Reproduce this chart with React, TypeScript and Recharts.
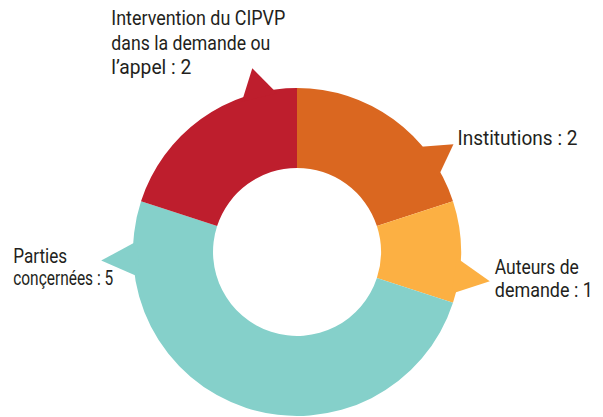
import React from "react";
import { PieChart, Pie, Cell } from "recharts";

// ---- data ----
const categories = [
  "Institutions",
  "Auteurs de demande",
  "Parties conçernées",
  "Intervention du CIPVP dans la demande ou l’appel",
];
const values = [2, 1, 5, 2];
const labelLines = [
  ["Institutions"],
  ["Auteurs de", "demande"],
  ["Parties", "conçernées"],
  ["Intervention du CIPVP", "dans la demande ou", "l’appel"],
];

// ---- style / layout ----
const colors = ["#DA6720", "#FCB043", "#85D0CA", "#BE1E2D"];
const pointerFraction = [0.77, 0.74, 0.886, 0.81];
const pointerLength = [26, 31, 32, 25];
const labelOffset = [
  [4, 1],
  [5, -7],
  [-88, 2],
  [-141, -43],
];
const lineHeight = [24, 23, 22, 24.5];
const lineWidths = [[120], [84, 98], [54, 100], [174, 159, 80]];
const HALF = 6.5;
const FONT = "Roboto, 'DejaVu Sans Condensed', sans-serif";
const FONT_SIZE = 21;
const RAD = Math.PI / 180;

const data = categories.map((name, i) => ({ name, value: values[i] }));

const polar = (cx: number, cy: number, r: number, angle: number) => [
  cx + r * Math.cos(-angle * RAD),
  cy + r * Math.sin(-angle * RAD),
];

function renderPointer(props: any) {
  const { cx, cy, outerRadius, startAngle, endAngle, index } = props;
  const a = startAngle + pointerFraction[index] * (endAngle - startAngle);
  const tip = polar(cx, cy, outerRadius + pointerLength[index], a);
  const b1 = polar(cx, cy, outerRadius - 4, a + HALF);
  const b2 = polar(cx, cy, outerRadius - 4, a - HALF);
  const lines = labelLines[index].slice();
  lines[lines.length - 1] = `${lines[lines.length - 1]} : ${values[index]}`;
  const [dx, dy] = labelOffset[index];
  return (
    <g key={`ptr-${index}`}>
      <polygon
        points={`${b1[0]},${b1[1]} ${tip[0]},${tip[1]} ${b2[0]},${b2[1]}`}
        fill={colors[index]}
        stroke="none"
      />
      {lines.map((ln, j) => (
        <text
          key={j}
          x={tip[0] + dx}
          y={tip[1] + dy + j * lineHeight[index]}
          fontFamily={FONT}
          fontSize={FONT_SIZE}
          fill="#231F20"
          textAnchor="start"
          textLength={lineWidths[index][j]}
          lengthAdjust="spacingAndGlyphs"
        >
          {ln}
        </text>
      ))}
    </g>
  );
}

export default function App() {
  return (
    <div style={{ position: "absolute", left: 0, top: 0, width: 603, height: 417, background: "#fff" }}>
      <PieChart width={603} height={417} margin={{ top: 0, right: 0, bottom: 0, left: 0 }}>
        <Pie
          data={data}
          dataKey="value"
          nameKey="name"
          cx={297}
          cy={252}
          innerRadius={84}
          outerRadius={164}
          startAngle={90}
          endAngle={-270}
          stroke="none"
          isAnimationActive={false}
          label={renderPointer}
          labelLine={false}
        >
          {data.map((d, i) => (
            <Cell key={d.name} fill={colors[i]} stroke="none" />
          ))}
        </Pie>
      </PieChart>
    </div>
  );
}
